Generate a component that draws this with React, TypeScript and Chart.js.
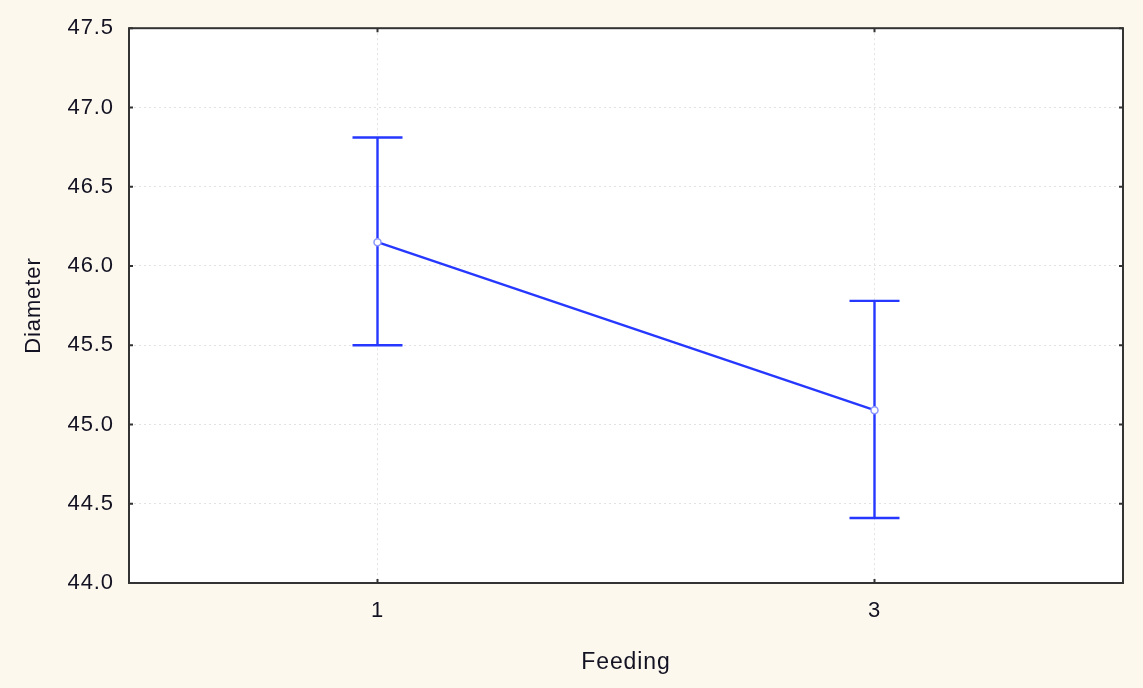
import React, { useEffect, useRef } from "react";
import { Chart, registerables } from "chart.js";

Chart.register(...registerables);

// Feeding groups and mean diameter with interval bounds
const feedingLevels = ["1", "3"];
const meanDiameter = [46.15, 45.09];
const lowerBound = [45.5, 44.41];
const upperBound = [46.81, 45.78];

const yMin = 44.0;
const yMax = 47.5;
const yStep = 0.5;

const BLUE = "rgb(38, 56, 255)";
const INK = "#121222";
const FRAME = "#333333";
const FONT = "'Liberation Sans', Arial, Helvetica, sans-serif";

// Slightly widened lettering for all chart text
const spacingPlugin = {
  id: "letterSpacing",
  beforeUpdate(chart: any) {
    (chart.ctx as any).letterSpacing = "0.9px";
  },
  beforeDraw(chart: any) {
    (chart.ctx as any).letterSpacing = "0.9px";
  },
};

// Vertical interval whiskers with caps, drawn beneath the points
const errorBarPlugin = {
  id: "errorBars",
  beforeDatasetsDraw(chart: any) {
    const { ctx, scales } = chart;
    const x = scales.x;
    const y = scales.y;
    ctx.save();
    ctx.strokeStyle = BLUE;
    ctx.lineWidth = 2.4;
    const cap = 25;
    feedingLevels.forEach((_, i) => {
      const px = x.getPixelForValue(i);
      const top = y.getPixelForValue(upperBound[i]);
      const bot = y.getPixelForValue(lowerBound[i]);
      ctx.beginPath();
      ctx.moveTo(px, top);
      ctx.lineTo(px, bot);
      ctx.moveTo(px - cap, top);
      ctx.lineTo(px + cap, top);
      ctx.moveTo(px - cap, bot);
      ctx.lineTo(px + cap, bot);
      ctx.stroke();
    });
    ctx.restore();
  },
};

// White plot area, closed frame and short inward tick marks
const framePlugin = {
  id: "frame",
  beforeDraw(chart: any) {
    const { ctx, chartArea: a } = chart;
    ctx.save();
    ctx.fillStyle = "#ffffff";
    ctx.fillRect(a.left, a.top, a.right - a.left, a.bottom - a.top);
    ctx.restore();
  },
  afterDraw(chart: any) {
    const { ctx, chartArea: a, scales } = chart;
    ctx.save();
    ctx.strokeStyle = FRAME;
    ctx.lineWidth = 2;
    ctx.strokeRect(a.left, a.top, a.right - a.left, a.bottom - a.top);
    const len = 4;
    ctx.beginPath();
    scales.y.ticks.forEach((_: any, i: number) => {
      const py = scales.y.getPixelForTick(i);
      ctx.moveTo(a.left, py);
      ctx.lineTo(a.left + len, py);
      ctx.moveTo(a.right, py);
      ctx.lineTo(a.right - len, py);
    });
    scales.x.ticks.forEach((_: any, i: number) => {
      const px = scales.x.getPixelForTick(i);
      ctx.moveTo(px, a.bottom);
      ctx.lineTo(px, a.bottom - len);
      ctx.moveTo(px, a.top);
      ctx.lineTo(px, a.top + len);
    });
    ctx.stroke();
    ctx.restore();
  },
};

export default function App() {
  const canvasRef = useRef<HTMLCanvasElement | null>(null);

  useEffect(() => {
    const canvas = canvasRef.current;
    if (!canvas) return;
    const chart = new Chart(canvas, {
      type: "line",
      data: {
        labels: feedingLevels,
        datasets: [
          {
            data: meanDiameter,
            borderColor: BLUE,
            borderWidth: 2.4,
            pointRadius: 3.5,
            pointBackgroundColor: "#ffffff",
            pointBorderColor: "rgb(140, 150, 255)",
            pointBorderWidth: 1.5,
            tension: 0,
          },
        ],
      },
      options: {
        animation: false,
        responsive: false,
        maintainAspectRatio: false,
        layout: { padding: { top: 25, right: 20, left: 0, bottom: 0 } },
        plugins: {
          legend: { display: false },
          tooltip: { enabled: false },
        },
        scales: {
          x: {
            type: "category",
            offset: true,
            grid: {
              offset: false,
              drawTicks: false,
              color: "#e2e2e2",
              lineWidth: 1,
            },
            border: { display: false, dash: [2, 3] },
            ticks: {
              color: INK,
              font: { family: FONT, size: 22 },
              padding: 15,
            },
            title: {
              display: true,
              text: "Feeding",
              color: INK,
              font: { family: FONT, size: 23 },
              padding: { top: 0, bottom: 12 },
            },
            afterFit(scale: any) {
              scale.height = 105;
            },
          },
          y: {
            min: yMin,
            max: yMax,
            grid: {
              drawTicks: false,
              color: "#e2e2e2",
              lineWidth: 1,
            },
            border: { display: false, dash: [2, 3] },
            ticks: {
              stepSize: yStep,
              color: INK,
              font: { family: FONT, size: 22 },
              padding: 15,
              callback: (v: any) => Number(v).toFixed(1),
            },
            title: {
              display: true,
              text: "Diameter",
              color: INK,
              font: { family: FONT, size: 22 },
              padding: { top: 21, bottom: 0 },
            },
            afterFit(scale: any) {
              scale.width = 129;
            },
          },
        },
      },
      plugins: [spacingPlugin, errorBarPlugin, framePlugin],
    });
    return () => chart.destroy();
  }, []);

  return (
    <div
      style={{
        position: "fixed",
        left: 0,
        top: 0,
        width: 1143,
        height: 688,
        background: "#fdf8ee",
      }}
    >
      <canvas ref={canvasRef} width={1143} height={688} style={{ display: "block" }} />
    </div>
  );
}
